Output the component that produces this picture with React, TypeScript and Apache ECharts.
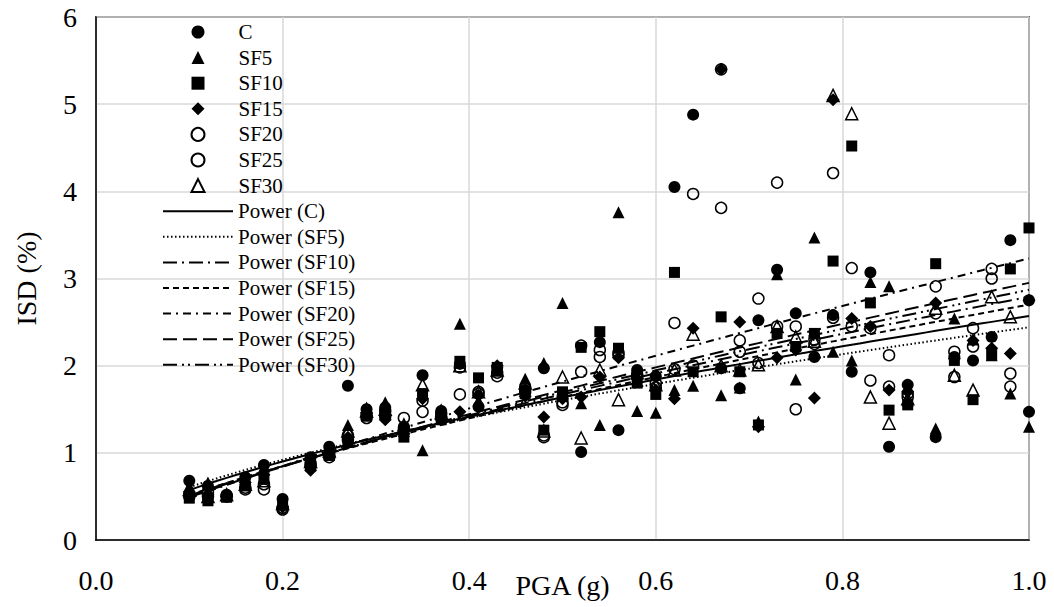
import { useEffect, useRef } from "react";
import * as echarts from "echarts";

const FONT = '"Times New Roman", "Liberation Serif", serif';

// PGA (g) values of the records
const pga = [0.10, 0.12, 0.14, 0.16, 0.18, 0.20, 0.23, 0.25, 0.27, 0.29, 0.31, 0.33, 0.35, 0.37, 0.39, 0.41, 0.43, 0.46, 0.48, 0.50, 0.52, 0.54, 0.56, 0.58, 0.60, 0.62, 0.64, 0.67, 0.69, 0.71, 0.73, 0.75, 0.77, 0.79, 0.81, 0.83, 0.85, 0.87, 0.90, 0.92, 0.94, 0.96, 0.98, 1.00];

// ISD (%) per series
const isdC = [0.68, 0.62, 0.52, 0.72, 0.86, 0.47, 0.95, 1.07, 1.77, 1.50, 1.52, 1.30, 1.89, 1.48, 2.02, 1.53, 1.98, 1.72, 1.97, 1.65, 1.01, 2.27, 1.26, 1.95, 1.88, 4.05, 4.88, 1.97, 1.74, 2.52, 3.10, 2.60, 2.10, 2.58, 1.93, 3.07, 1.07, 1.78, 1.18, 2.10, 2.06, 2.33, 3.44, 2.75];
const isdCExtra = [[1.00, 1.47]];
const isdSF5 = [0.62, 0.66, 0.53, 0.70, 0.84, 0.42, 0.92, 1.03, 1.32, 1.52, 1.58, 1.25, 1.03, 1.50, 2.48, 1.60, 1.95, 1.85, 2.03, 2.72, 1.57, 1.32, 3.76, 1.48, 1.46, 1.72, 1.77, 1.66, 1.75, 1.36, 3.05, 1.84, 3.47, 2.16, 2.06, 2.96, 2.91, 1.60, 1.28, 2.54, 2.30, 2.12, 1.68, 1.30];
const isdSF10 = [0.48, 0.45, 0.49, 0.62, 0.70, 0.40, 0.85, 0.97, 1.12, 1.42, 1.45, 1.18, 1.68, 1.38, 2.05, 1.86, 1.98, 1.68, 1.26, 1.70, 2.21, 2.39, 2.20, 1.80, 1.67, 3.07, 1.93, 2.56, 1.93, 1.32, 2.37, 2.22, 2.37, 3.20, 4.52, 2.72, 1.49, 1.55, 3.17, 2.06, 1.61, 2.13, 3.11, 3.58];
const isdSF15 = [0.55, 0.52, 0.50, 0.66, 0.75, 0.38, 0.80, 1.00, 1.18, 1.46, 1.38, 1.22, 1.62, 1.42, 1.47, 1.66, 2.00, 1.65, 1.41, 1.62, 1.64, 1.87, 2.09, 1.85, 1.72, 1.62, 2.43, 5.40, 2.50, 1.30, 2.09, 2.18, 1.63, 5.05, 2.54, 2.45, 1.72, 1.70, 2.72, 2.08, 2.29, 2.20, 2.14, 2.75];
const isdSF20 = [0.52, 0.55, 0.51, 0.58, 0.58, 0.35, 0.85, 0.95, 1.15, 1.40, 1.42, 1.40, 1.60, 1.45, 1.67, 1.70, 1.88, 1.70, 1.18, 1.55, 2.23, 2.18, 2.15, 1.90, 1.75, 2.49, 3.97, 5.40, 2.29, 2.77, 4.10, 1.50, 2.25, 4.21, 3.12, 2.43, 1.76, 1.64, 2.91, 2.16, 2.43, 3.11, 1.91, null];
const isdSF25 = [0.50, 0.50, 0.50, 0.60, 0.64, 0.37, 0.88, 0.98, 1.20, 1.44, 1.48, 1.28, 1.47, 1.40, 1.98, 1.68, 1.92, 1.75, 1.20, 1.58, 1.93, 2.10, 2.12, 1.88, 1.80, 1.96, 2.00, 3.81, 2.16, 2.03, 2.45, 2.45, 2.30, 2.55, 2.45, 1.83, 2.12, 1.68, 2.60, 1.87, 2.22, 3.00, 1.76, null];
const isdSF30 = [0.58, 0.50, 0.52, 0.64, 0.68, 0.42, 0.90, 1.02, 1.25, 1.48, 1.50, 1.32, 1.78, 1.46, 2.00, 1.70, 1.95, 1.80, 1.25, 1.87, 1.17, 1.95, 1.61, 1.92, 1.78, 1.95, 2.36, 2.00, 1.95, 2.01, 2.45, 2.33, 2.28, 5.10, 4.89, 1.64, 1.34, 1.62, 2.66, 1.89, 1.72, 2.79, 2.56, null];

const seriesNames = ["C", "SF5", "SF10", "SF15", "SF20", "SF25", "SF30"];
const seriesValues = [isdC, isdSF5, isdSF10, isdSF15, isdSF20, isdSF25, isdSF30];

// Power trendline coefficients (y = a * x^b)
const trendA = [2.57, 2.44, 2.79, 2.70, 3.23, 2.95, 2.87];
const trendB = [0.652, 0.606, 0.74, 0.72, 0.83, 0.78, 0.76];
const trendRange = [0.1, 1.0];

const markerStyles = [
  { symbol: "circle", size: 12, open: false },
  { symbol: "triangle", size: 12, open: false },
  { symbol: "rect", size: 11, open: false },
  { symbol: "diamond", size: 13, open: false },
  { symbol: "circle", size: 11, open: true },
  { symbol: "circle", size: 11, open: true },
  { symbol: "triangle", size: 12, open: true },
];

const lineTypes: any[] = [
  "solid",
  [1.5, 2.5],
  [14, 5, 2, 5],
  [6, 4],
  [8, 5, 2, 5],
  [14, 6],
  [14, 5, 2, 4, 2, 5],
];

const ROW = 25.6;
const LEGEND_TOP = 19.2;

export default function App() {
  const ref = useRef<HTMLDivElement>(null);
  useEffect(() => {
    if (!ref.current) return;
    const chart = echarts.init(ref.current, null, { renderer: "svg" });

    const scatterSeries = seriesNames.map((name, i) => {
      const data: any[] = [];
      seriesValues[i].forEach((v, j) => {
        if (v !== null && v !== undefined) data.push([pga[j], v]);
      });
      if (i === 0) isdCExtra.forEach((p) => data.push(p));
      const m = markerStyles[i];
      return {
        name,
        type: "scatter",
        symbol: m.symbol,
        symbolSize: m.size,
        data,
        itemStyle: m.open
          ? { color: "rgba(0,0,0,0)", borderColor: "#000", borderWidth: 1.5, opacity: 1 }
          : { color: "#000", opacity: 1 },
        emphasis: { disabled: true },
        z: 3,
      };
    });

    const lineSeries = seriesNames.map((name, i) => {
      const data: number[][] = [];
      const n = 90;
      for (let k = 0; k <= n; k++) {
        const x = trendRange[0] + ((trendRange[1] - trendRange[0]) * k) / n;
        data.push([x, trendA[i] * Math.pow(x, trendB[i])]);
      }
      return {
        name: `Power (${name})`,
        type: "line",
        data,
        symbol: "none",
        showSymbol: false,
        smooth: false,
        lineStyle: { color: "#000", width: 2, type: lineTypes[i] },
        itemStyle: { color: "rgba(0,0,0,0)", borderWidth: 0 },
        emphasis: { disabled: true },
        z: 4,
      };
    });

    const textStyle = { fontFamily: FONT, fontSize: 21, color: "#000", lineHeight: ROW };

    const option: any = {
      animation: false,
      backgroundColor: "#fff",
      textStyle: { fontFamily: FONT, color: "#000" },
      grid: {
        left: 96,
        right: 25,
        top: 17,
        bottom: 67,
        show: true,
        borderColor: "#000",
        borderWidth: 1.5,
        backgroundColor: "transparent",
        outerBoundsMode: "none",
        containLabel: false,
      },
      legend: [
        {
          orient: "vertical",
          left: 190.5,
          top: LEGEND_TOP,
          padding: 0,
          itemGap: 0,
          itemWidth: 13,
          itemHeight: 13,
          selectedMode: false,
          textStyle: { ...textStyle, padding: [0, 0, 0, 29] },
          data: seriesNames,
        },
        {
          orient: "vertical",
          left: 162,
          top: LEGEND_TOP + ROW * 7,
          padding: 0,
          itemGap: 0,
          itemWidth: 70,
          itemHeight: 13,
          selectedMode: false,
          itemStyle: { color: "rgba(0,0,0,0)", borderWidth: 0 },
          textStyle,
          data: seriesNames.map((n) => `Power (${n})`),
        },
      ],
      xAxis: {
        type: "value",
        min: 0,
        max: 1,
        interval: 0.2,
        name: "PGA (g)",
        nameLocation: "middle",
        nameGap: 31,
        nameMoveOverlap: false,
        nameTextStyle: { fontFamily: FONT, fontSize: 28, color: "#000" },
        axisLine: { show: true, onZero: false, lineStyle: { color: "#000", width: 1.5 } },
        axisTick: { show: false },
        axisLabel: {
          fontFamily: FONT,
          fontSize: 28,
          color: "#000",
          margin: 26,
          formatter: (v: number) => v.toFixed(1),
        },
        splitLine: { show: true, lineStyle: { color: "#d9d9d9", width: 1.5 } },
      },
      yAxis: {
        type: "value",
        min: 0,
        max: 6,
        interval: 1,
        name: "ISD (%)",
        nameLocation: "middle",
        nameRotate: 90,
        nameGap: 56,
        nameMoveOverlap: false,
        nameTextStyle: { fontFamily: FONT, fontSize: 28, color: "#000" },
        axisLine: { show: true, onZero: false, lineStyle: { color: "#000", width: 1.5 } },
        axisTick: { show: false },
        axisLabel: { fontFamily: FONT, fontSize: 28, color: "#000", margin: 19 },
        splitLine: { show: true, lineStyle: { color: "#d9d9d9", width: 1.5 } },
      },
      series: [...scatterSeries, ...lineSeries],
    };

    chart.setOption(option);
    return () => chart.dispose();
  }, []);

  return (
    <div
      ref={ref}
      style={{ position: "absolute", left: 0, top: 0, width: 1054, height: 607 }}
    />
  );
}
